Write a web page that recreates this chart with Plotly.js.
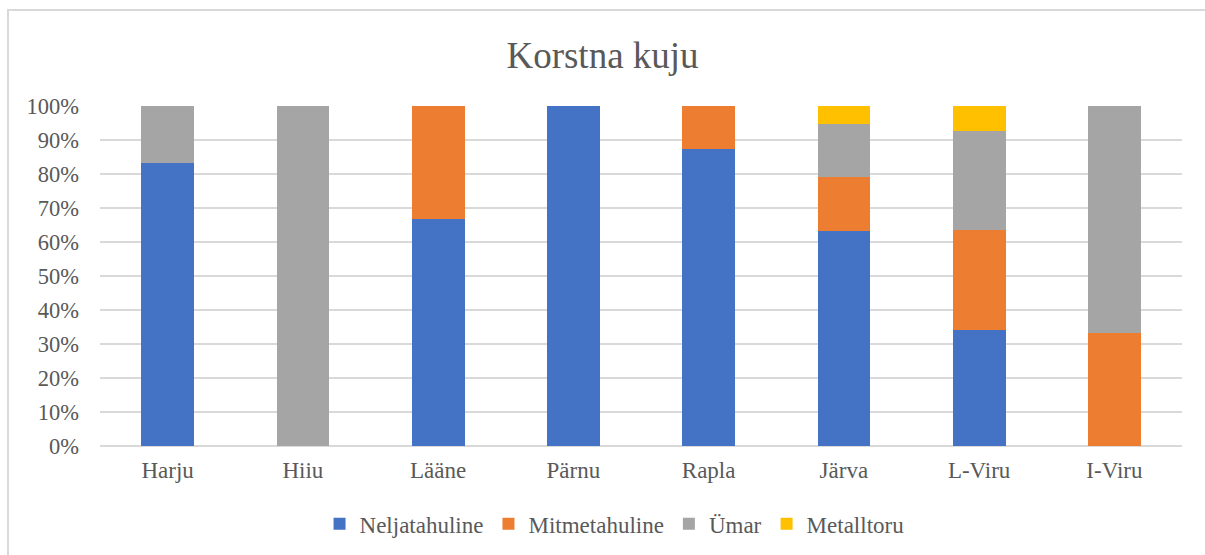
<!DOCTYPE html>
<html>
<head>
<meta charset="utf-8">
<script src="https://cdn.plot.ly/plotly-3.0.1.min.js"></script>
<style>
  html, body { margin: 0; padding: 0; background: #fff; }
  #wrap { position: relative; width: 1205px; height: 555px; overflow: hidden; }
  #chart { width: 1205px; height: 555px; }
  #frame { position: absolute; left: 7px; top: 9px; width: 1210px; height: 560px;
           border-top: 2px solid #D9D9D9; border-left: 2px solid #D9D9D9; pointer-events: none; }
</style>
</head>
<body>
<div id="wrap">
  <div id="chart"></div>
  <div id="frame"></div>
</div>
<script>
const categories = ["Harju", "Hiiu", "Lääne", "Pärnu", "Rapla", "Järva", "L-Viru", "I-Viru"];
const seriesNames = ["Neljatahuline", "Mitmetahuline", "Ümar", "Metalltoru"];
const neljatahuline = [83.3, 0, 66.7, 100, 87.5, 63.2, 34.1, 0];
const mitmetahuline = [0, 0, 33.3, 0, 12.5, 15.8, 29.3, 33.3];
const umar = [16.7, 100, 0, 0, 0, 15.8, 29.3, 66.7];
const metalltoru = [0, 0, 0, 0, 0, 5.2, 7.3, 0];
const yTicks = [0, 10, 20, 30, 40, 50, 60, 70, 80, 90, 100];

const colors = ["#4472C4", "#ED7D31", "#A5A5A5", "#FFC000"];
const seriesValues = [neljatahuline, mitmetahuline, umar, metalltoru];

const textColor = "#595959";
const font = "'Liberation Serif', 'Times New Roman', serif";

const traces = seriesValues.map((vals, i) => ({
  type: "bar",
  name: seriesNames[i],
  x: categories,
  y: vals,
  marker: { color: colors[i], line: { width: 0 } },
  hoverinfo: "x+y+name"
}));

const layout = {
  width: 1205,
  height: 555,
  barmode: "stack",
  bargap: 0.61,
  paper_bgcolor: "#ffffff",
  plot_bgcolor: "#ffffff",
  margin: { l: 100, r: 23, t: 106, b: 109, autoexpand: false },
  font: { family: font, color: textColor, size: 23 },
  title: {
    text: "Korstna kuju",
    font: { family: font, size: 37, color: textColor },
    x: 0.5, xanchor: "center",
    y: 0.9, yanchor: "middle",
    yref: "container"
  },
  xaxis: {
    type: "category",
    showgrid: false,
    zeroline: false,
    showline: false,
    ticks: "",
    ticklabelstandoff: 8,
    tickfont: { family: font, size: 23, color: textColor }
  },
  yaxis: {
    range: [0, 100],
    tickvals: yTicks,
    ticktext: yTicks.map(v => v + "%"),
    showgrid: true,
    gridcolor: "#D9D9D9",
    gridwidth: 1.5,
    zeroline: true,
    zerolinecolor: "#D9D9D9",
    zerolinewidth: 1.5,
    showline: false,
    ticks: "",
    ticklabelstandoff: 20,
    tickfont: { family: font, size: 22.5, color: textColor },
    fixedrange: true
  },
  showlegend: true,
  legend: {
    orientation: "h",
    x: 0.51, xanchor: "center", xref: "container",
    y: 0.056, yanchor: "middle", yref: "container",
    font: { family: font, size: 23, color: textColor },
    traceorder: "normal",
    itemwidth: 30
  }
};

Plotly.newPlot("chart", traces, layout, { displayModeBar: false, staticPlot: true });
</script>
</body>
</html>
